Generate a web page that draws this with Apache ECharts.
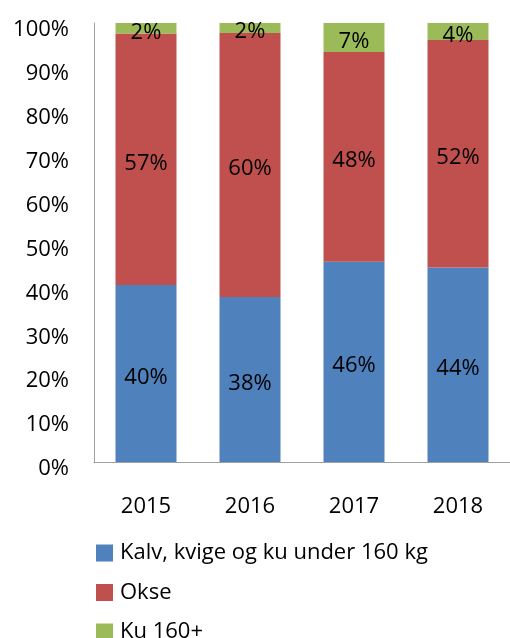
<!DOCTYPE html>
<html>
<head>
<meta charset="utf-8">
<script src="https://cdn.jsdelivr.net/npm/echarts@6/dist/echarts.min.js"></script>
<style>
  html, body { margin: 0; padding: 0; background: #fff; }
  #chart { width: 510px; height: 638px; }
</style>
</head>
<body>
<div id="chart"></div>
<script>
const years = ['2015', '2016', '2017', '2018']
const seriesNames = ['Kalv, kvige og ku under 160 kg', 'Okse', 'Ku 160+']
// andel i prosent, lest av figuren
const kalv = [40.3, 37.6, 45.6, 44.3]
const okse = [57.3, 60.1, 47.8, 51.8]
const ku160 = [2.4, 2.3, 6.6, 3.9]
const colors = ['#4F81BD', '#C0504D', '#9BBB59']

const font = 'Open Sans'
const chart = echarts.init(document.getElementById('chart'))

const label = {
  show: true,
  position: 'inside',
  color: '#000',
  fontFamily: font,
  fontSize: 22,
  offset: [0, 4],
  formatter: p => Math.round(p.value) + '%'
}

function bar(name, data, color) {
  return {
    name: name,
    type: 'bar',
    stack: 'total',
    barWidth: 61,
    data: data,
    itemStyle: {color: color},
    label: label,
    emphasis: {disabled: true}
  }
}

chart.setOption({
  animation: false,
  textStyle: {fontFamily: font},
  grid: {left: 94, top: 23, bottom: 176, right: -6},
  legend: {
    orient: 'vertical',
    left: 96,
    top: 542,
    height: 200,
    padding: 0,
    itemWidth: 17,
    itemHeight: 17,
    itemGap: 17.5,
    icon: 'rect',
    data: seriesNames,
    textStyle: {color: '#000', fontSize: 22, fontFamily: font, padding: [0, 0, 0, 2]}
  },
  xAxis: {
    type: 'category',
    data: years,
    axisLine: {lineStyle: {color: '#a0a0a0', width: 1}},
    axisTick: {show: false},
    axisLabel: {color: '#000', fontSize: 22, fontFamily: font, margin: 34}
  },
  yAxis: {
    type: 'value',
    min: 0,
    max: 100,
    interval: 10,
    axisLine: {show: true, lineStyle: {color: '#a0a0a0', width: 1}},
    axisTick: {show: false},
    splitLine: {show: false},
    axisLabel: {
      color: '#000', fontSize: 22, fontFamily: font, margin: 25,
      formatter: '{value}%', verticalAlign: 'top', lineHeight: 14
    }
  },
  series: [
    bar(seriesNames[0], kalv, colors[0]),
    bar(seriesNames[1], okse, colors[1]),
    bar(seriesNames[2], ku160, colors[2])
  ]
})
</script>
</body>
</html>
